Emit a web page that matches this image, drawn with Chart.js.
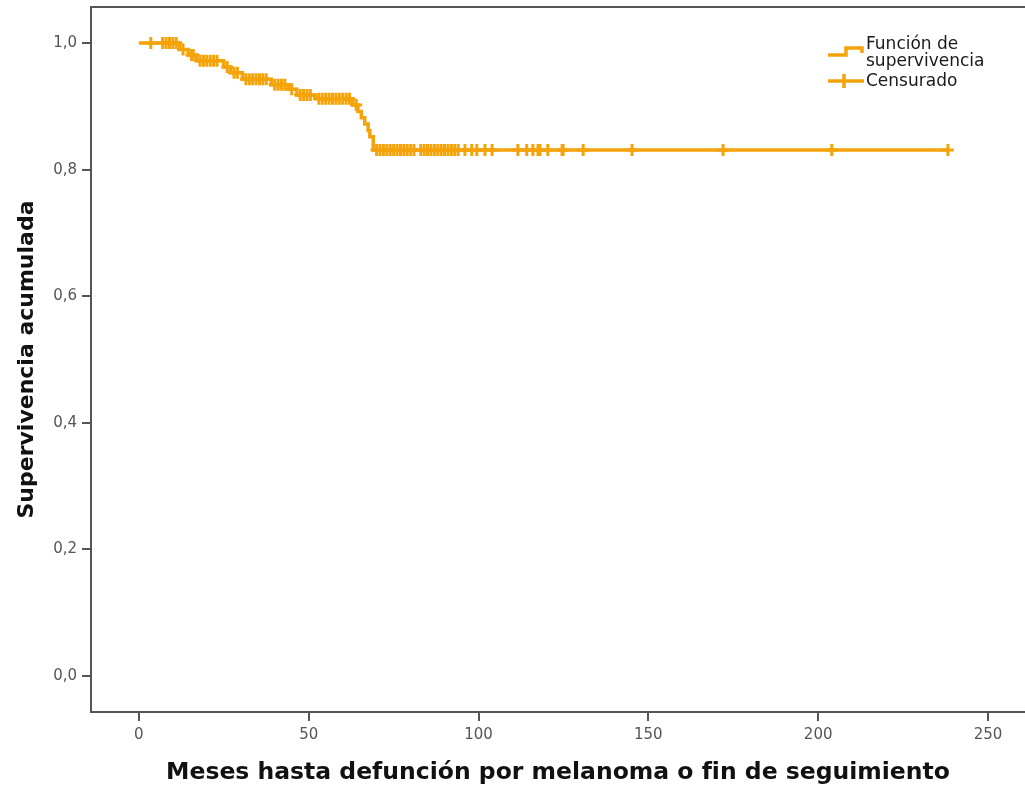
<!DOCTYPE html>
<html lang="es">
<head>
<meta charset="utf-8">
<title>Supervivencia acumulada</title>
<script src="https://cdn.jsdelivr.net/npm/chart.js@4/dist/chart.umd.min.js"></script>
<style>
  html, body { margin: 0; padding: 0; background: #ffffff; }
  #wrap { width: 1025px; height: 793px; }
</style>
</head>
<body>
<div id="wrap"><canvas id="km" width="1025" height="793"></canvas></div>
<script>
// Kaplan-Meier survival function (months, cumulative survival)
const eventMonths = [0, 12, 14.5, 17, 25, 27, 30.5, 39, 44, 46.5, 52, 63, 64.5, 65.5, 66.5, 67.5, 68, 69, 238.2];
const survival    = [1.0, 0.99, 0.981, 0.972, 0.962, 0.953, 0.943, 0.934, 0.927, 0.918, 0.912, 0.902, 0.892, 0.882, 0.872, 0.862, 0.852, 0.831, 0.831];

// Censored observations
const censoredMonths = [
  3.5, 7, 8, 9, 10, 11,
  13, 15.5, 16,
  18, 19, 20, 21, 22, 23,
  26, 28, 29,
  31.5, 32.5, 33.5, 34.5, 35.5, 36.5, 37.5,
  40, 41, 42, 43, 45,
  47.5, 48.5, 49.5, 50.5,
  53, 54, 55, 56, 57, 58, 59, 60, 61, 62, 64,
  70, 71, 72, 73, 74, 75, 76, 77, 78, 79, 80, 81, 83, 84, 85, 86, 87, 88, 89, 90, 91, 92, 93, 94, 96, 98,
  99.5, 101.9, 104, 111.6, 114.2, 116, 117.5, 118.1, 120.4, 124.6, 124.9, 130.8, 145.2, 172, 204, 238.2
];
const censoredSurvival = [
  1.0, 1.0, 1.0, 1.0, 1.0, 1.0,
  0.99, 0.981, 0.981,
  0.972, 0.972, 0.972, 0.972, 0.972, 0.972,
  0.962, 0.953, 0.953,
  0.943, 0.943, 0.943, 0.943, 0.943, 0.943, 0.943,
  0.934, 0.934, 0.934, 0.934, 0.927,
  0.918, 0.918, 0.918, 0.918,
  0.912, 0.912, 0.912, 0.912, 0.912, 0.912, 0.912, 0.912, 0.912, 0.912, 0.902,
  0.831, 0.831, 0.831, 0.831, 0.831, 0.831, 0.831, 0.831, 0.831, 0.831, 0.831, 0.831, 0.831, 0.831, 0.831, 0.831, 0.831, 0.831, 0.831, 0.831, 0.831, 0.831, 0.831, 0.831, 0.831, 0.831,
  0.831, 0.831, 0.831, 0.831, 0.831, 0.831, 0.831, 0.831, 0.831, 0.831, 0.831, 0.831, 0.831, 0.831, 0.831, 0.831
];

// Axis ticks
const xTicks = [0, 50, 100, 150, 200, 250];
const yTicks = [0, 0.2, 0.4, 0.6, 0.8, 1.0];

const xTitle = 'Meses hasta defunción por melanoma o fin de seguimiento';
const yTitle = 'Supervivencia acumulada';
const legendLines = ['Función de', 'supervivencia', 'Censurado'];

const ORANGE = '#f5a30a';
const FRAME = '#555555';

const curvePoints = eventMonths.map((m, i) => ({ x: m, y: survival[i] }));
const censorPoints = censoredMonths.map((m, i) => ({ x: m, y: censoredSurvival[i] }));

// Top edge of the plot frame
const frameTop = {
  id: 'frameTop',
  beforeDatasetsDraw(chart) {
    const { ctx, chartArea: a } = chart;
    ctx.save();
    ctx.strokeStyle = FRAME;
    ctx.lineWidth = 2;
    ctx.beginPath();
    ctx.moveTo(a.left - 1, a.top);
    ctx.lineTo(a.right, a.top);
    ctx.stroke();
    ctx.restore();
  }
};

// Legend with a step icon and a censor icon
const kmLegend = {
  id: 'kmLegend',
  afterDraw(chart) {
    const { ctx } = chart;
    const x0 = 828;
    ctx.save();
    ctx.strokeStyle = ORANGE;
    ctx.lineWidth = 3.5;
    ctx.lineCap = 'butt';
    // step icon
    ctx.beginPath();
    ctx.moveTo(x0, 55);
    ctx.lineTo(x0 + 18, 55);
    ctx.lineTo(x0 + 18, 48);
    ctx.lineTo(x0 + 34, 48);
    ctx.lineTo(x0 + 34, 53);
    ctx.stroke();
    // censor icon
    ctx.beginPath();
    ctx.moveTo(x0, 81);
    ctx.lineTo(x0 + 36, 81);
    ctx.moveTo(x0 + 16, 74);
    ctx.lineTo(x0 + 16, 88);
    ctx.stroke();
    ctx.fillStyle = '#1a1a1a';
    ctx.font = '17px "DejaVu Sans"';
    ctx.textBaseline = 'middle';
    ctx.textAlign = 'left';
    ctx.fillText(legendLines[0], x0 + 38, 45);
    ctx.fillText(legendLines[1], x0 + 38, 62);
    ctx.fillText(legendLines[2], x0 + 38, 82);
    ctx.restore();
  }
};

new Chart(document.getElementById('km'), {
  type: 'scatter',
  data: {
    datasets: [
      {
        label: 'Función de supervivencia',
        data: curvePoints,
        showLine: true,
        stepped: 'before',
        borderColor: ORANGE,
        borderWidth: 3.5,
        pointRadius: 0,
        pointHoverRadius: 0,
        fill: false
      },
      {
        label: 'Censurado',
        data: censorPoints,
        showLine: false,
        pointStyle: 'cross',
        pointRadius: 6,
        pointBorderWidth: 3,
        borderColor: ORANGE,
        backgroundColor: ORANGE,
        pointHoverRadius: 6
      }
    ]
  },
  options: {
    responsive: false,
    animation: false,
    events: [],
    layout: { autoPadding: false, padding: { top: 7, right: 0, left: 0, bottom: 0 } },
    plugins: {
      legend: { display: false },
      tooltip: { enabled: false }
    },
    scales: {
      x: {
        type: 'linear',
        min: -14.1,
        max: 260.9,
        afterBuildTicks: s => { s.ticks = xTicks.map(v => ({ value: v })); },
        afterFit: s => { s.height = 81; s.paddingLeft = 0; s.paddingRight = 0; },
        border: { display: true, color: FRAME, width: 2 },
        grid: { drawOnChartArea: false, drawTicks: true, tickLength: 9, color: FRAME, lineWidth: 2 },
        ticks: {
          padding: 5,
          color: '#555555',
          font: { family: '"DejaVu Sans"', size: 15 },
          callback: v => String(v)
        },
        title: {
          display: true,
          text: xTitle,
          color: '#111111',
          padding: { top: 6, bottom: 6 },
          font: { family: '"DejaVu Sans"', size: 23.5, weight: 'bold' }
        }
      },
      y: {
        type: 'linear',
        min: -0.057,
        max: 1.057,
        afterBuildTicks: s => { s.ticks = yTicks.map(v => ({ value: v })); },
        afterFit: s => { s.width = 91; s.paddingTop = 0; s.paddingBottom = 0; },
        border: { display: true, color: FRAME, width: 2 },
        grid: { drawOnChartArea: false, drawTicks: true, tickLength: 9, color: FRAME, lineWidth: 2 },
        ticks: {
          padding: 5,
          color: '#555555',
          font: { family: '"DejaVu Sans"', size: 15 },
          callback: v => v.toFixed(1).replace('.', ',')
        },
        title: {
          display: true,
          text: yTitle,
          color: '#111111',
          padding: { top: 14, bottom: 4 },
          font: { family: '"DejaVu Sans"', size: 22, weight: 'bold' }
        }
      }
    }
  },
  plugins: [frameTop, kmLegend]
});
</script>
</body>
</html>
